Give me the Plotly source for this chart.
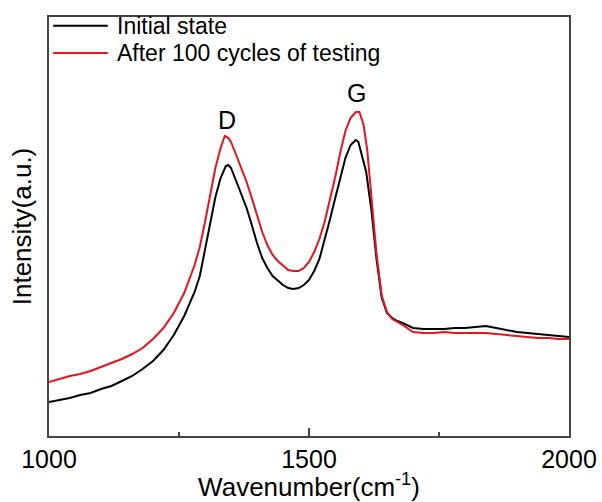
import plotly.graph_objects as go

# Raman shift (cm^-1) and intensity (a.u.) for each spectrum
wn_initial = [1000, 1020, 1040, 1060, 1080, 1100, 1120, 1140, 1160, 1180, 1200, 1220, 1240, 1260,
              1280, 1290, 1300, 1310, 1320, 1330, 1340, 1345, 1350, 1360, 1370, 1380, 1390, 1400,
              1410, 1420, 1430, 1440, 1450, 1460, 1470, 1480, 1490, 1500, 1510, 1520, 1530, 1540,
              1550, 1560, 1570, 1580, 1590, 1595, 1600, 1610, 1620, 1630, 1640, 1650, 1660, 1670,
              1680, 1700, 1720, 1740, 1760, 1780, 1800, 1820, 1840, 1860, 1880, 1900, 1920, 1940,
              1960, 1980, 2000]
int_initial = [340, 360, 380, 410, 430, 470, 500, 550, 600, 670, 750, 860, 1010, 1200,
               1440, 1600, 1860, 2140, 2390, 2580, 2700, 2710, 2680, 2550, 2420, 2280, 2110, 1930,
               1780, 1680, 1600, 1550, 1510, 1480, 1470, 1480, 1510, 1560, 1650, 1770, 1960, 2160,
               2370, 2590, 2780, 2910, 2960, 2940, 2840, 2640, 2260, 1760, 1380, 1230, 1180, 1150,
               1130, 1080, 1070, 1070, 1070, 1080, 1080, 1090, 1100, 1080, 1060, 1040, 1030, 1020,
               1010, 1000, 990]

wn_cycled = [1000, 1020, 1040, 1060, 1080, 1100, 1120, 1140, 1160, 1180, 1200, 1220, 1240, 1260,
             1280, 1290, 1300, 1310, 1320, 1330, 1338, 1345, 1350, 1360, 1370, 1380, 1390, 1400,
             1410, 1420, 1430, 1440, 1450, 1460, 1470, 1480, 1490, 1500, 1510, 1520, 1530, 1540,
             1550, 1560, 1570, 1580, 1590, 1597, 1605, 1612, 1620, 1630, 1640, 1650, 1660, 1670,
             1680, 1700, 1720, 1740, 1760, 1780, 1800, 1820, 1840, 1860, 1880, 1900, 1920, 1940,
             1960, 1980, 2000]
int_cycled = [540, 570, 600, 620, 650, 690, 730, 770, 820, 880, 970, 1080, 1230, 1430,
              1710, 1890, 2140, 2430, 2680, 2880, 3000, 2980, 2940, 2810, 2680, 2540, 2380, 2200,
              2040, 1910, 1810, 1750, 1700, 1660, 1650, 1650, 1680, 1740, 1840, 1970, 2140, 2350,
              2580, 2830, 3050, 3180, 3240, 3240, 3110, 2860, 2380, 1810, 1400, 1240, 1170, 1140,
              1110, 1040, 1030, 1030, 1040, 1030, 1030, 1030, 1030, 1020, 1010, 1000, 990, 980,
              980, 970, 970]

series_names = ["Initial state", "After 100 cycles of testing"]
series_colors = ["#000000", "#e8131b"]

# Band labels
band_names = ["D", "G"]
band_wn = [1342, 1592]
band_label_y = [3160, 3430]

FONT = "Arial, Liberation Sans, sans-serif"
AXIS_COLOR = "#444444"

fig = go.Figure()
for x, y, name, color in [(wn_initial, int_initial, series_names[0], series_colors[0]),
                          (wn_cycled, int_cycled, series_names[1], series_colors[1])]:
    fig.add_trace(go.Scatter(x=x, y=y, mode="lines", name=name,
                             line=dict(color=color, width=2), showlegend=False))

for name, x, y in zip(band_names, band_wn, band_label_y):
    fig.add_annotation(x=x, y=y, text=name, showarrow=False,
                       font=dict(family=FONT, size=25, color="#000000"))

# Key in the top-left corner: a line sample and the series name per row
key_rows_y = [0.979, 0.914]
for name, color, ky in zip(series_names, series_colors, key_rows_y):
    fig.add_shape(type="line", xref="paper", yref="paper",
                  x0=0.008, x1=0.113, y0=ky, y1=ky,
                  line=dict(color=color, width=2))
    fig.add_annotation(xref="paper", yref="paper", x=0.126, y=ky,
                       xanchor="left", yanchor="middle", text=name, showarrow=False,
                       font=dict(family=FONT, size=23, color="#000000"))

fig.update_layout(
    width=602, height=502,
    margin=dict(l=49, r=33, t=17, b=66),
    paper_bgcolor="white", plot_bgcolor="white",
    font=dict(family=FONT, color="#000000"),
    showlegend=False,
)
fig.update_xaxes(
    range=[1000, 2000], tickvals=[1000, 1500, 2000],
    ticks="inside", ticklen=8, tickwidth=1.5, tickcolor=AXIS_COLOR,
    minor=dict(tickvals=[1250, 1750], ticks="inside", ticklen=4, tickwidth=1.5, tickcolor=AXIS_COLOR),
    showline=True, linecolor=AXIS_COLOR, linewidth=1.5, mirror=True,
    showgrid=False, zeroline=False, automargin=False,
    tickfont=dict(family=FONT, size=25),
    title=dict(text="Wavenumber(cm<sup>-1</sup>)", font=dict(family=FONT, size=26), standoff=2),
)
fig.update_yaxes(
    range=[0, 4190], showticklabels=False, ticks="",
    showline=True, linecolor=AXIS_COLOR, linewidth=1.5, mirror=True,
    showgrid=False, zeroline=False, automargin=False,
    title=dict(text="Intensity(a.u.)", font=dict(family=FONT, size=26), standoff=8),
)

fig.write_html("out.html")
